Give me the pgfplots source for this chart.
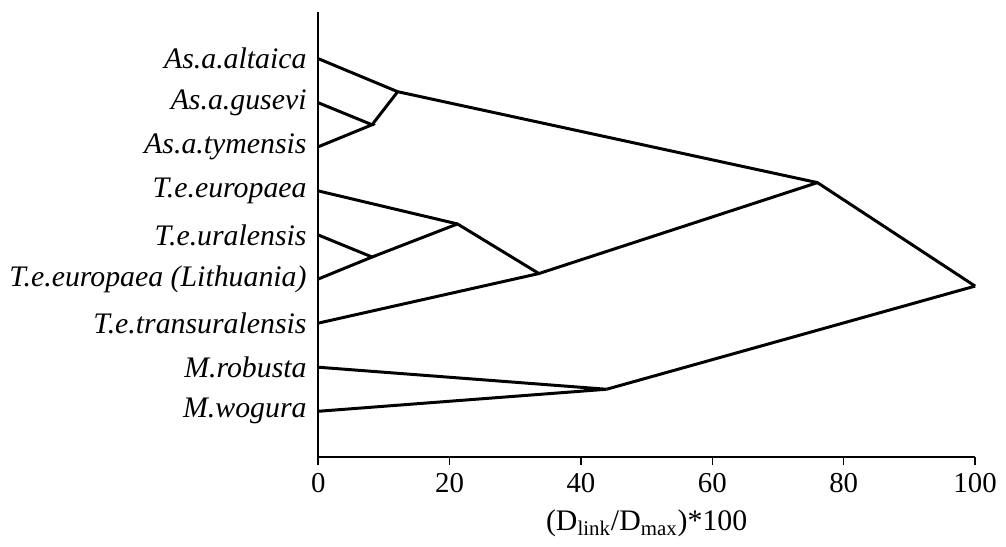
\documentclass[border=0pt]{standalone}
\usepackage{fontspec}
\setmainfont{Liberation Serif}
\usepackage{pgfplots}
\pgfplotsset{compat=1.18}
\pgfplotsset{branch/.style={black, solid, line width=1.5pt, mark=none}}

\begin{document}
\begin{tikzpicture}
\fontsize{14}{17}\selectfont
\begin{axis}[
    scale only axis,
    width=330.5pt, height=224pt,
    xmin=0, xmax=100,
    ymin=-0.04, ymax=10.06,
    axis x line=bottom,
    axis y line=left,
    axis line style={-, line width=0.75pt},
    xtick={0,20,40,60,80,100},
    tick align=outside,
    x tick style={line width=0.75pt, black},
    major tick length=4pt,
    ytick={1,2,3,4,5,6,7,8,9},
    y tick style={draw=none},
    yticklabels={\textit{M.wogura}, \textit{M.robusta}, \textit{T.e.transuralensis},
        \textit{T.e.europaea (Lithuania)}, \textit{T.e.uralensis}, \textit{T.e.europaea},
        \textit{As.a.tymensis}, \textit{As.a.gusevi}, \textit{As.a.altaica}},
    yticklabel style={xshift=3pt, font=\fontsize{15}{18}\selectfont},
    xticklabel style={yshift=0.5pt, font=\fontsize{14.5}{17}\selectfont},
    /pgf/number format/assume math mode=true,
    xlabel={(D\textsubscript{link}/D\textsubscript{max})*100},
    xlabel style={yshift=1pt, font=\fontsize{15}{18}\selectfont},
    clip=false,
]
% dendrogram branches
\addplot[branch] coordinates {(0,9) (12.1,8.25) (76,6.1875) (100,3.84)};
\addplot[branch] coordinates {(0,8) (8.2,7.5) (0,7)};
\addplot[branch] coordinates {(8.2,7.5) (12.1,8.25)};
\addplot[branch] coordinates {(0,6) (21.2,5.25) (33.6,4.125) (76,6.1875)};
\addplot[branch] coordinates {(0,5) (8.2,4.5) (0,4)};
\addplot[branch] coordinates {(8.2,4.5) (21.2,5.25)};
\addplot[branch] coordinates {(0,3) (33.6,4.125)};
\addplot[branch] coordinates {(0,2) (43.9,1.5) (0,1)};
\addplot[branch] coordinates {(43.9,1.5) (100,3.84)};
\end{axis}
\path ([yshift=6pt]current axis.north west);
\end{tikzpicture}
\end{document}
